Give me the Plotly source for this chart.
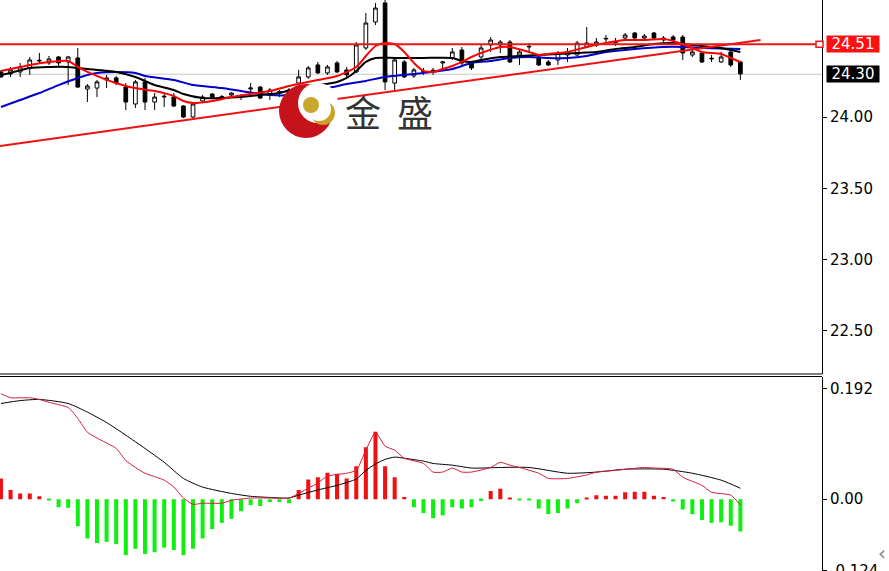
import plotly.graph_objects as go

# ---------------- data ----------------
bar_idx = list(range(78))

opens = [24.316, 24.302, 24.316, 24.344, 24.393, 24.379, 24.421, 24.386, 24.414, 24.196,
         24.203, 24.260, 24.274, 24.210, 24.091, 24.246, 24.105, 24.140, 24.140, 24.077,
         24.000, 24.112, 24.161, 24.140, 24.154, 24.147, 24.196, 24.210, 24.154, 24.175,
         24.161, 24.238, 24.281, 24.365, 24.309, 24.379, 24.330, 24.316, 24.484, 24.666,
         24.800, 24.238, 24.386, 24.288, 24.316, 24.323, 24.379, 24.414, 24.470, 24.379,
         24.421, 24.505, 24.505, 24.526, 24.435, 24.491, 24.421, 24.386, 24.400, 24.435,
         24.435, 24.491, 24.505, 24.547, 24.519, 24.554, 24.589, 24.554, 24.589, 24.540,
         24.561, 24.561, 24.435, 24.449, 24.407, 24.386, 24.456, 24.386]
highs = [24.330, 24.351, 24.379, 24.421, 24.449, 24.428, 24.428, 24.428, 24.484, 24.231,
         24.260, 24.295, 24.288, 24.238, 24.260, 24.274, 24.168, 24.168, 24.168, 24.084,
         24.098, 24.154, 24.168, 24.154, 24.175, 24.161, 24.238, 24.217, 24.203, 24.189,
         24.203, 24.330, 24.358, 24.386, 24.365, 24.393, 24.351, 24.526, 24.729, 24.799,
         24.830, 24.421, 24.400, 24.344, 24.344, 24.344, 24.393, 24.484, 24.491, 24.393,
         24.505, 24.561, 24.540, 24.540, 24.470, 24.519, 24.435, 24.400, 24.463, 24.484,
         24.533, 24.631, 24.554, 24.575, 24.554, 24.589, 24.596, 24.582, 24.596, 24.568,
         24.575, 24.575, 24.470, 24.456, 24.435, 24.456, 24.484, 24.393]
lows = [24.274, 24.281, 24.281, 24.295, 24.379, 24.365, 24.344, 24.224, 24.203, 24.105,
        24.140, 24.203, 24.224, 24.049, 24.063, 24.049, 24.049, 24.070, 24.070, 23.993,
        23.993, 24.098, 24.133, 24.126, 24.147, 24.119, 24.175, 24.126, 24.119, 24.140,
        24.147, 24.224, 24.267, 24.302, 24.295, 24.309, 24.281, 24.309, 24.470, 24.645,
        24.189, 24.175, 24.274, 24.274, 24.295, 24.295, 24.330, 24.400, 24.365, 24.330,
        24.407, 24.456, 24.449, 24.379, 24.365, 24.449, 24.358, 24.358, 24.365, 24.386,
        24.428, 24.484, 24.491, 24.526, 24.498, 24.540, 24.547, 24.540, 24.540, 24.526,
        24.519, 24.400, 24.421, 24.379, 24.386, 24.379, 24.351, 24.260]
closes = [24.281, 24.330, 24.351, 24.400, 24.397, 24.407, 24.379, 24.421, 24.210, 24.217,
          24.246, 24.274, 24.238, 24.105, 24.246, 24.105, 24.140, 24.145, 24.077, 24.000,
          24.091, 24.140, 24.140, 24.143, 24.168, 24.143, 24.203, 24.133, 24.189, 24.178,
          24.189, 24.281, 24.344, 24.309, 24.351, 24.316, 24.295, 24.505, 24.659, 24.764,
          24.246, 24.400, 24.281, 24.330, 24.320, 24.327, 24.386, 24.456, 24.379, 24.344,
          24.484, 24.540, 24.526, 24.386, 24.456, 24.495, 24.365, 24.365, 24.449, 24.456,
          24.519, 24.519, 24.526, 24.551, 24.523, 24.575, 24.554, 24.568, 24.554, 24.554,
          24.540, 24.449, 24.456, 24.386, 24.411, 24.421, 24.365, 24.302]

# moving averages (sampled at bar indices)
ma_fast_x = [0, 2, 3, 5, 7, 8, 9, 10, 11, 13, 14, 16, 18, 19, 20, 22, 24, 26, 28, 30, 33, 35,
             37, 38, 39, 40, 41, 42, 43, 44, 45, 46, 47, 48, 49, 50, 52, 53, 55, 56, 57, 59,
             61, 63, 65, 67, 69, 70, 72, 73, 75, 76, 77]
ma_fast_y = [24.323, 24.351, 24.365, 24.386, 24.393, 24.351, 24.316, 24.288, 24.260, 24.217,
             24.203, 24.182, 24.147, 24.112, 24.098, 24.112, 24.140, 24.161, 24.182, 24.217,
             24.260, 24.288, 24.351, 24.428, 24.498, 24.519, 24.512, 24.456, 24.379, 24.323,
             24.316, 24.337, 24.358, 24.386, 24.421, 24.449, 24.491, 24.491, 24.456, 24.435,
             24.442, 24.456, 24.491, 24.519, 24.540, 24.540, 24.547, 24.533, 24.484, 24.456,
             24.442, 24.414, 24.386]

ma_mid_x = [0, 1, 3, 5, 7, 8, 9, 12, 14, 16, 18, 19, 21, 23, 25, 27, 29, 31, 33, 35, 36, 37,
            38, 39, 41, 44, 47, 48, 49, 50, 52, 54, 56, 58, 60, 62, 64, 66, 68, 70, 72, 74,
            75, 76, 77]
ma_mid_y = [24.295, 24.309, 24.344, 24.351, 24.351, 24.344, 24.337, 24.316, 24.281, 24.224,
            24.189, 24.161, 24.133, 24.133, 24.140, 24.154, 24.168, 24.203, 24.224, 24.246,
            24.274, 24.323, 24.386, 24.414, 24.414, 24.414, 24.414, 24.393, 24.386, 24.400,
            24.421, 24.428, 24.435, 24.442, 24.449, 24.456, 24.477, 24.491, 24.512, 24.519,
            24.505, 24.491, 24.484, 24.470, 24.456]

ma_slow_x = [0, 2, 4, 6, 8, 9, 10, 12, 14, 15, 18, 20, 23, 25, 28, 30, 32, 34, 36, 38, 40,
             44, 47, 49, 51, 53, 55, 57, 59, 61, 63, 66, 69, 71, 73, 77]
ma_slow_y = [24.070, 24.119, 24.168, 24.224, 24.274, 24.295, 24.309, 24.316, 24.309, 24.288,
             24.260, 24.224, 24.203, 24.182, 24.154, 24.154, 24.189, 24.203, 24.231, 24.253,
             24.281, 24.309, 24.337, 24.379, 24.393, 24.414, 24.421, 24.414, 24.414, 24.428,
             24.456, 24.477, 24.491, 24.491, 24.484, 24.477]

trend_x = [-0.1, 79.1]
trend_y = [23.797, 24.540]

resistance = 24.51
last_price = 24.30

price_ticks = [22.5, 23.0, 23.5, 24.0]
price_ticktext = ["22.50", "23.00", "23.50", "24.00"]

# MACD
macd_hist = [0.036, 0.016, 0.010, 0.010, 0.005, -0.002, -0.014, -0.015, -0.047, -0.068,
             -0.076, -0.074, -0.078, -0.097, -0.086, -0.095, -0.092, -0.084, -0.088, -0.097,
             -0.086, -0.068, -0.052, -0.041, -0.034, -0.021, -0.010, -0.012, -0.005, -0.005,
             -0.007, 0.016, 0.034, 0.038, 0.046, 0.044, 0.036, 0.057, 0.090, 0.117,
             0.057, 0.038, 0.004, -0.014, -0.024, -0.033, -0.028, -0.014, -0.016, -0.014,
             -0.003, 0.014, 0.018, 0.003, -0.002, -0.002, -0.016, -0.026, -0.024, -0.016,
             -0.007, 0.003, 0.007, 0.006, 0.006, 0.012, 0.013, 0.013, 0.006, 0.004,
             -0.004, -0.018, -0.026, -0.036, -0.041, -0.040, -0.046, -0.056]

dif_x = [0, 1, 3, 4, 5, 7, 8, 9, 10, 12, 13, 14, 15, 17, 18, 19, 20, 21, 23, 24, 26, 28, 30,
         32, 33, 34, 36, 37, 38, 39, 40, 41, 42, 44, 45, 46, 47, 48, 49, 51, 52, 53, 54, 56,
         57, 59, 61, 62, 64, 67, 68, 70, 71, 73, 74, 76, 77]
dif_y = [0.183, 0.176, 0.176, 0.173, 0.168, 0.159, 0.140, 0.116, 0.106, 0.088, 0.067, 0.055,
         0.045, 0.033, 0.021, 0.002, -0.009, -0.007, -0.007, -0.002, 0.002, 0.002, 0.002,
         0.019, 0.028, 0.040, 0.045, 0.050, 0.085, 0.116, 0.092, 0.085, 0.071, 0.062, 0.047,
         0.047, 0.054, 0.047, 0.047, 0.055, 0.064, 0.059, 0.055, 0.045, 0.036, 0.036, 0.042,
         0.047, 0.050, 0.055, 0.054, 0.052, 0.038, 0.024, 0.012, 0.007, -0.010]

dea_x = [0, 2, 4, 7, 9, 11, 13, 15, 17, 19, 21, 24, 26, 28, 30, 31, 33, 35, 37, 38, 39, 40,
         41, 42, 44, 45, 47, 49, 50, 52, 55, 59, 62, 65, 69, 72, 75, 77]
dea_y = [0.166, 0.171, 0.173, 0.166, 0.151, 0.133, 0.111, 0.088, 0.064, 0.036, 0.021, 0.010,
         0.005, 0.003, 0.002, 0.007, 0.016, 0.024, 0.035, 0.050, 0.061, 0.069, 0.073, 0.071,
         0.066, 0.062, 0.059, 0.054, 0.054, 0.055, 0.055, 0.045, 0.047, 0.052, 0.052, 0.045,
         0.033, 0.019]

macd_ticks = [-0.124, 0.0, 0.192]
macd_ticktext = ["-0.124", "0.00", "0.192"]

# ---------------- layout helpers ----------------
W, H_ = 889, 571
PLOT_W = 822


def px(x):
    return x / PLOT_W


def py(y):
    return 1 - y / H_


FONT = "DejaVu Sans"

fig = go.Figure()

fig.add_trace(go.Candlestick(
    x=bar_idx, open=opens, high=highs, low=lows, close=closes,
    increasing=dict(line=dict(color="black", width=1), fillcolor="white"),
    decreasing=dict(line=dict(color="black", width=1), fillcolor="black"),
    whiskerwidth=0, showlegend=False, xaxis="x", yaxis="y", hoverinfo="skip"))

fig.add_trace(go.Scatter(x=ma_slow_x, y=ma_slow_y, mode="lines",
                         line=dict(color="#0000c8", width=2, shape="spline", smoothing=0.6),
                         showlegend=False, xaxis="x", yaxis="y"))
fig.add_trace(go.Scatter(x=ma_mid_x, y=ma_mid_y, mode="lines",
                         line=dict(color="#000000", width=2, shape="spline", smoothing=0.6),
                         showlegend=False, xaxis="x", yaxis="y"))
fig.add_trace(go.Scatter(x=ma_fast_x, y=ma_fast_y, mode="lines",
                         line=dict(color="#ff0000", width=2, shape="spline", smoothing=0.6),
                         showlegend=False, xaxis="x", yaxis="y"))
fig.add_trace(go.Scatter(x=trend_x, y=trend_y, mode="lines",
                         line=dict(color="#ee1111", width=2),
                         showlegend=False, xaxis="x", yaxis="y"))

# MACD panel
hist_colors = ["#ee1111" if v >= 0 else "#11ee11" for v in macd_hist]
fig.add_trace(go.Bar(x=bar_idx, y=macd_hist, marker=dict(color=hist_colors, line=dict(width=0)),
                     width=0.42, showlegend=False, xaxis="x2", yaxis="y2"))
fig.add_trace(go.Scatter(x=dea_x, y=dea_y, mode="lines",
                         line=dict(color="#000000", width=1, shape="spline", smoothing=0.6),
                         showlegend=False, xaxis="x2", yaxis="y2"))
fig.add_trace(go.Scatter(x=dif_x, y=dif_y, mode="lines",
                         line=dict(color="#d81b3c", width=1, shape="spline", smoothing=0.5),
                         showlegend=False, xaxis="x2", yaxis="y2"))

main_top, main_bot = 24 + 117 / 142.6, 24 - 257 / 142.6
macd_top, macd_bot = (499 - 376) / 578, (499 - 571) / 578

axis_common = dict(side="right", showline=True, linecolor="black", linewidth=1,
                   ticks="outside", ticklen=4, tickcolor="black", showgrid=False,
                   zeroline=False, tickfont=dict(family=FONT, size=15, color="black"),
                   ticklabeloverflow="allow", automargin=False, fixedrange=True)

shapes = [
    dict(type="line", xref="paper", yref="y", x0=0, x1=1, y0=last_price, y1=last_price,
         line=dict(color="#c8c8c8", width=1), layer="below"),
    dict(type="line", xref="paper", yref="y", x0=0, x1=px(816), y0=resistance, y1=resistance,
         line=dict(color="#e81818", width=2)),
    dict(type="rect", xref="paper", yref="y", x0=px(816), x1=px(823),
         y0=resistance - 0.021, y1=resistance + 0.021,
         line=dict(color="#e81818", width=1.5), fillcolor="white"),
    dict(type="line", xref="paper", yref="paper", x0=0, x1=1, y0=py(374), y1=py(374),
         line=dict(color="black", width=1)),
    dict(type="line", xref="paper", yref="paper", x0=0, x1=1, y0=py(376.5), y1=py(376.5),
         line=dict(color="black", width=1)),
]


def circ(cx, cy, r, color):
    return dict(type="circle", xref="paper", yref="paper",
                x0=px(cx - r), x1=px(cx + r), y0=py(cy + r), y1=py(cy - r),
                fillcolor=color, line=dict(width=0), layer="above")


shapes += [
    circ(306, 111, 27, "#c5121b"),
    circ(318, 103, 20, "white"),
    circ(323, 113, 12, "#c9a227"),
    circ(319, 109, 12, "white"),
    circ(311, 105, 8, "#c8a82c"),
]

annotations = [
    dict(xref="paper", yref="y", x=1, y=resistance, xanchor="left", yanchor="middle",
         xshift=4, text="24.51", showarrow=False, bgcolor="#ff1010",
         font=dict(family=FONT, size=15, color="white"), width=52, height=16, borderpad=0),
    dict(xref="paper", yref="y", x=1, y=last_price, xanchor="left", yanchor="middle",
         xshift=4, text="24.30", showarrow=False, bgcolor="#000000",
         font=dict(family=FONT, size=15, color="white"), width=52, height=16, borderpad=0),
    dict(xref="paper", yref="paper", x=px(363), y=py(111), xanchor="center", yanchor="middle",
         text="金", showarrow=False,
         font=dict(family="Noto Sans CJK SC", size=36, color="#333333")),
    dict(xref="paper", yref="paper", x=px(415), y=py(111), xanchor="center", yanchor="middle",
         text="盛", showarrow=False,
         font=dict(family="Noto Sans CJK SC", size=36, color="#333333")),
    dict(xref="paper", yref="paper", x=px(882), y=py(553), xanchor="center", yanchor="middle",
         text="‹", showarrow=False, font=dict(family=FONT, size=20, color="#888888")),
]

fig.update_layout(
    width=W, height=H_,
    margin=dict(l=0, r=W - PLOT_W, t=0, b=0, autoexpand=False),
    paper_bgcolor="white", plot_bgcolor="white",
    boxgap=0.45,
    bargap=0.5,
    showlegend=False,
    xaxis=dict(domain=[0, 1], range=[-0.1, 85.5], visible=False, anchor="y",
               rangeslider=dict(visible=False), fixedrange=True, automargin=False),
    xaxis2=dict(domain=[0, 1], range=[-0.1, 85.5], visible=False, anchor="y2",
                fixedrange=True, automargin=False),
    yaxis=dict(domain=[py(374), 1], range=[main_bot, main_top], anchor="x",
               tickvals=price_ticks, ticktext=price_ticktext, **axis_common),
    yaxis2=dict(domain=[0, py(376.5)], range=[macd_bot, macd_top], anchor="x2",
                tickvals=macd_ticks, ticktext=macd_ticktext, **axis_common),
    shapes=shapes,
    annotations=annotations,
)

fig.write_html("out.html", config={"displayModeBar": False},
               post_script="document.body.style.margin='0px';document.body.style.padding='0px';"
                           "document.body.style.overflow='hidden';")
